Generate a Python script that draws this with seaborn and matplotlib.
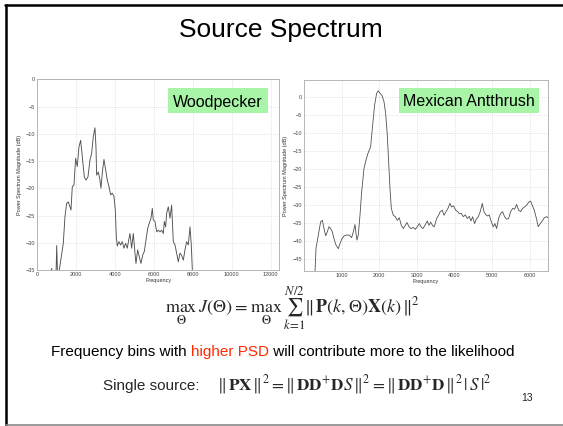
import numpy as np
import pandas as pd
import matplotlib
matplotlib.use("Agg")
import matplotlib.pyplot as plt
import seaborn as sns
from matplotlib.patches import Rectangle
from matplotlib.lines import Line2D

# ---------------- data ----------------
wood_freq = [700, 740, 780, 960, 1000, 1040, 1131, 1337, 1423, 1509, 1594, 1680, 1732, 1800, 1886,
             1971, 2057, 2143, 2229, 2314, 2417, 2503, 2606, 2709, 2794, 2880, 2966, 3017,
             3052, 3137, 3223, 3274, 3360, 3429, 3514, 3600, 3686, 3772, 3857, 3943, 4012,
             4063, 4115, 4200, 4286, 4372, 4457, 4543, 4629, 4715, 4766, 4852, 4937, 5023,
             5075, 5160, 5246, 5332, 5417, 5503, 5589, 5675, 5760, 5846, 5915, 5966, 6052,
             6138, 6223, 6309, 6395, 6480, 6532, 6600, 6652, 6738, 6823, 6909, 6995, 7080,
             7166, 7252, 7337, 7423, 7509, 7595, 7680, 7766, 7852, 7920, 7972, 8020]
wood_db = [-36, -34.7, -36, -36, -30.5, -36, -35, -30.1, -25.2, -22.8, -22.5, -23.4, -24, -19.7, -19.4,
           -14.5, -16, -12.4, -11.2, -14.2, -17.9, -18.5, -17.9, -14.8, -13.6, -10.5, -8.9, -12.4,
           -17.6, -17, -18.5, -20, -16.6, -14.7, -16.6, -18.5, -19.7, -21.2, -20.9, -21.5, -24,
           -28.9, -30.6, -29.8, -30.4, -29.8, -31, -30.1, -31, -29.2, -28.3, -31, -28.3, -31.9,
           -33.8, -31.3, -32.6, -33.8, -32.3, -31.6, -29.5, -27.4, -26.4, -25.5, -23.7, -25.8, -26.1,
           -28, -27.7, -28, -27.7, -28.3, -26.1, -27.1, -24.6, -23.4, -25.5, -23.1, -29.8, -30.4,
           -31.9, -33.5, -31.9, -32.3, -33.2, -31.3, -29.8, -30.4, -27.1, -30.4, -35, -40]

ant_freq = [292, 319, 381, 442, 487, 531, 575, 619, 664, 708, 752, 796, 850, 912, 956, 1009, 1071,
            1133, 1195, 1265, 1310, 1354, 1381, 1407, 1442, 1487, 1531, 1593, 1646, 1699, 1770,
            1823, 1876, 1929, 1973, 2018, 2071, 2124, 2168, 2212, 2248, 2283, 2319, 2372, 2425,
            2478, 2531, 2584, 2637, 2690, 2735, 2788, 2841, 2903, 2956, 3009, 3062, 3106, 3159,
            3212, 3274, 3319, 3363, 3416, 3460, 3522, 3575, 3619, 3673, 3717, 3770, 3823, 3876,
            3920, 3973, 4027, 4071, 4124, 4177, 4230, 4283, 4336, 4389, 4434, 4478, 4531, 4575,
            4628, 4681, 4735, 4779, 4832, 4876, 4920, 4973, 5027, 5071, 5115, 5168, 5221, 5274,
            5327, 5381, 5434, 5487, 5540, 5593, 5646, 5699, 5752, 5805, 5858, 5912, 5965, 6018,
            6062, 6115, 6168, 6221, 6274, 6327, 6381, 6442, 6487]
ant_db = [-48.6, -42, -38.3, -34.6, -34.2, -36.5, -38.5, -37.4, -36, -36.5, -37.4, -39.3, -41.1, -42.1,
          -40.7, -39.3, -38.5, -38.3, -38.3, -39, -37.4, -35.4, -37.9, -39.7, -38.3, -32.8, -26.3,
          -19.8, -17.5, -15.6, -13.7, -7.7, -2.1, 1.1, 1.8, 1.1, 0.5, -1.2, -4.5, -10.5, -17.9,
          -25.3, -30.9, -32.8, -33.2, -34.2, -33.5, -35.6, -36.5, -35.6, -34.8, -36, -36.5, -36.2,
          -36.7, -36, -35.1, -36, -36.5, -35.6, -34.4, -35.6, -34.7, -35.7, -36, -33.7, -32.8,
          -31.8, -31.4, -32.8, -31.8, -30.9, -29.5, -30.5, -30.2, -31.4, -31.7, -32.3, -32.3,
          -33.2, -32.7, -33.7, -33.1, -34.4, -33.2, -35.1, -33.9, -33.2, -31.8, -29.5, -31.8,
          -32.7, -33, -32.7, -34.6, -36, -35.1, -36.5, -33.7, -32.3, -31.8, -33.2, -33.9, -33.7,
          -31.8, -30.9, -31.1, -29.8, -31.4, -31.8, -30.9, -30.5, -30, -29.2, -28.9, -30, -31.4,
          -33.5, -36, -35.1, -34.4, -33.5, -33.2, -33.5]

wood_xticks = [0, 2000, 4000, 6000, 8000, 10000, 12000]
wood_yticks = [0, -5, -10, -15, -20, -25, -30, -35]
ant_xticks = [1000, 2000, 3000, 4000, 5000, 6000]
ant_yticks = [0, -5, -10, -15, -20, -25, -30, -35, -40, -45]

title = "Source Spectrum"
label_left = "Woodpecker"
label_right = "Mexican Antthrush"
ylabel = "Power Spectrum Magnitude (dB)"
xlabel = "Frequency"

# ---------------- figure ----------------
sns.set_style("white")
plt.rcParams['font.family'] = ['Liberation Sans', 'DejaVu Sans']
plt.rcParams['mathtext.fontset'] = 'stix'

W, H = 563, 426
fig = plt.figure(figsize=(W / 100, H / 100), dpi=100)
fig.patch.set_facecolor('white')

def fx(px):
    return px / W

def fy(py):
    return 1 - py / H

# slide border
fig.add_artist(Line2D([fx(5), fx(563)], [fy(5), fy(5)], color='black', lw=1.8, transform=fig.transFigure))
fig.add_artist(Line2D([fx(6), fx(6)], [fy(5), fy(426)], color='black', lw=1.8, transform=fig.transFigure))
fig.add_artist(Line2D([fx(6), fx(563)], [fy(424.5), fy(424.5)], color='#888888', lw=1.2, transform=fig.transFigure))

fig.text(fx(281), fy(37), title, ha='center', va='baseline', fontsize=19, color='black')

def fmt(t):
    return str(t).replace('-', '\u2212')

def style_axes(ax, xticks, yticks, xlim, ylim, ylabel_pad):
    ax.set_xlim(*xlim)
    ax.set_ylim(*ylim)
    ax.set_xticks(xticks)
    ax.set_yticks(yticks)
    ax.set_xticklabels([fmt(t) for t in xticks])
    ax.set_yticklabels([fmt(t) for t in yticks])
    ax.tick_params(axis='both', labelsize=4, colors='#444444', length=1.5, width=0.4, pad=1.5,
                   direction='in')
    ax.grid(True, linestyle=(0, (1, 2)), color='#c8c8c8', linewidth=0.5)
    for s in ax.spines.values():
        s.set_color('#aaaaaa')
        s.set_linewidth(0.6)
    ax.set_xlabel(xlabel, fontsize=4, labelpad=0.5, color='#333333')
    ax.set_ylabel(ylabel, fontsize=4, labelpad=ylabel_pad, color='#333333')

# left axes
axL = fig.add_axes([fx(37.3), fy(270), fx(279) - fx(37.3), fy(79.3) - fy(270)])
sns.lineplot(x=wood_freq, y=wood_db, ax=axL, color='#505050', linewidth=0.65)
style_axes(axL, wood_xticks, wood_yticks, (0, 12430), (-35, 0), 3)

# right axes
axR = fig.add_axes([fx(304), fy(271), fx(548) - fx(304), fy(80) - fy(271)])
sns.lineplot(x=ant_freq, y=ant_db, ax=axR, color='#505050', linewidth=0.6)
style_axes(axR, ant_xticks, ant_yticks, (0, 6480), (-48.3, 4.8), 3)

# green labels
for (x0, x1, y0, y1, txt) in [(168, 268, 88, 113, label_left), (399, 539, 88, 113, label_right)]:
    fig.add_artist(Rectangle((fx(x0), fy(y1)), fx(x1) - fx(x0), fy(y0) - fy(y1),
                             transform=fig.transFigure, facecolor='#a8f5a8', edgecolor='none', zorder=5))
    fig.text(fx((x0 + x1) / 2), fy((y0 + y1) / 2), txt, ha='center', va='center_baseline',
             fontsize=11.5, color='black', zorder=6)

# formula 1
fig.text(fx(292), fy(312.5),
         r"$\max_{\Theta}\, J(\Theta)\; =\; \max_{\Theta}\, \sum_{k=1}^{N/2} \|\,\mathbf{P}(k,\Theta)\mathbf{X}(k)\,\|^2$",
         ha='center', va='baseline', fontsize=13)

# line 2 (multi colour)
parts = [("Frequency bins with ", 'black'), ("higher PSD", '#ff2a00'),
         (" will contribute more to the likelihood", 'black')]
fig.canvas.draw()
renderer = fig.canvas.get_renderer()
widths = []
for s, c in parts:
    t = fig.text(0, 0, s, fontsize=11)
    widths.append(t.get_window_extent(renderer).width)
    t.remove()
total = sum(widths)
x = 283 - total / 2
for (s, c), w in zip(parts, widths):
    fig.text(fx(x), fy(356), s, ha='left', va='baseline', fontsize=11, color=c)
    x += w

# line 3
fig.text(fx(103), fy(390), "Single source:", ha='left', va='baseline', fontsize=11)
fig.text(fx(217), fy(390),
         r"$\|\,\mathbf{PX}\,\|^2 = \|\,\mathbf{DD}^{+}\mathbf{D}S\,\|^2 = \|\,\mathbf{DD}^{+}\mathbf{D}\,\|^2\, |\,S\,|^2$",
         ha='left', va='baseline', fontsize=12.3)

fig.text(fx(527), fy(401), "13", ha='center', va='baseline', fontsize=7.5, color='#222222')

fig.savefig("out.png", dpi=100)
